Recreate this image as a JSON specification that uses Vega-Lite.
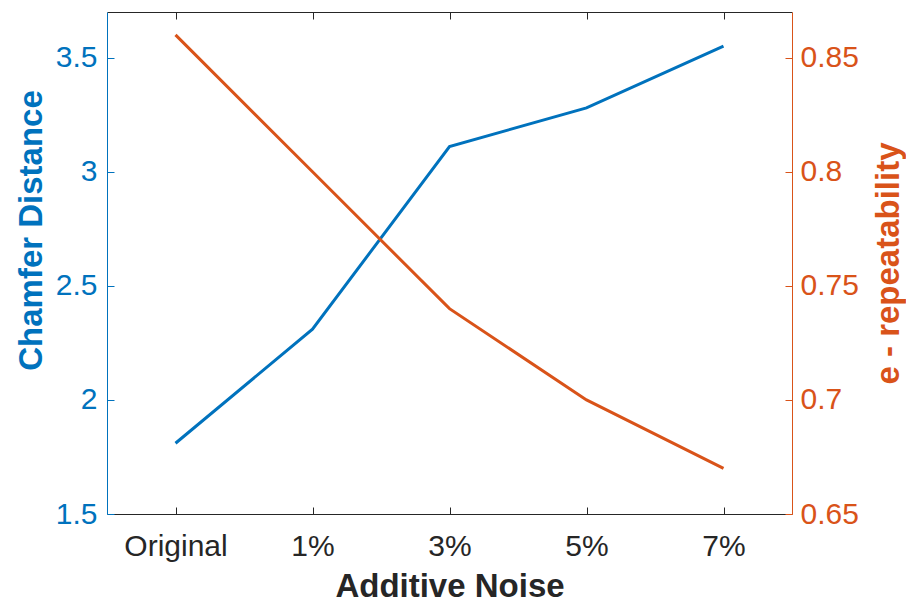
{
  "$schema": "https://vega.github.io/schema/vega-lite/v6.json",
  "autosize": {"type": "none"},
  "padding": {"left": 107, "top": 12, "right": 114, "bottom": 89},
  "width": 685,
  "height": 502,
  "background": "white",
  "view": {"stroke": null},
  "config": {
    "font": "Liberation Sans",
    "axis": {
      "grid": false,
      "labelFont": "Liberation Sans",
      "titleFont": "Liberation Sans",
      "labelFontSize": 30,
      "titleFontSize": 33,
      "titleFontWeight": "bold",
      "domainWidth": 1,
      "tickWidth": 1
    }
  },
  "data": {
    "values": [
      {"noise": "Original", "chamfer": 1.81, "rep": 0.86},
      {"noise": "1%", "chamfer": 2.31, "rep": 0.80},
      {"noise": "3%", "chamfer": 3.11, "rep": 0.74},
      {"noise": "5%", "chamfer": 3.28, "rep": 0.70},
      {"noise": "7%", "chamfer": 3.55, "rep": 0.67}
    ]
  },
  "layer": [
    {
      "mark": {"type": "line", "color": "#0072BD", "strokeWidth": 3},
      "encoding": {
        "x": {
          "field": "noise",
          "type": "ordinal",
          "sort": ["Original", "1%", "3%", "5%", "7%"],
          "scale": {"type": "point", "padding": 0.5},
          "axis": {
            "orient": "bottom",
            "title": "Additive Noise",
            "labelAngle": 0,
            "labelBaseline": "alphabetic",
            "labelColor": "#262626",
            "titleColor": "#262626",
            "domainColor": "#262626",
            "tickColor": "#262626",
            "tickSize": -7,
            "labelPadding": 48,
            "titleX": 342.5,
            "titleY": 82,
            "titleBaseline": "alphabetic"
          }
        },
        "y": {
          "field": "chamfer",
          "type": "quantitative",
          "scale": {"domain": [1.5, 3.7], "nice": false, "zero": false},
          "axis": {
            "orient": "left",
            "title": "Chamfer Distance",
            "values": [1.5, 2, 2.5, 3, 3.5],
            "format": "~g",
            "labelColor": "#0072BD",
            "titleColor": "#0072BD",
            "domainColor": "#0072BD",
            "tickColor": "#0072BD",
            "tickSize": -7,
            "labelPadding": 17,
            "titleAngle": -90,
            "titleX": -66,
            "titleY": 218,
            "titleAlign": "center",
            "titleBaseline": "alphabetic"
          }
        }
      }
    },
    {
      "mark": {"type": "line", "color": "#D95319", "strokeWidth": 3},
      "encoding": {
        "x": {
          "field": "noise",
          "type": "ordinal",
          "sort": ["Original", "1%", "3%", "5%", "7%"],
          "scale": {"type": "point", "padding": 0.5},
          "axis": {
            "orient": "top",
            "title": null,
            "labels": false,
            "domainColor": "#262626",
            "tickColor": "#262626",
            "tickSize": -7
          }
        },
        "y": {
          "field": "rep",
          "type": "quantitative",
          "scale": {"domain": [0.65, 0.87], "nice": false, "zero": false},
          "axis": {
            "orient": "right",
            "title": "e - repeatability",
            "values": [0.65, 0.7, 0.75, 0.8, 0.85],
            "format": "~g",
            "labelColor": "#D95319",
            "titleColor": "#D95319",
            "domainColor": "#D95319",
            "tickColor": "#D95319",
            "tickSize": -7,
            "labelPadding": 15,
            "titleAngle": -90,
            "titleX": 106,
            "titleY": 251,
            "titleAlign": "center",
            "titleBaseline": "alphabetic"
          }
        }
      }
    }
  ],
  "resolve": {"scale": {"y": "independent"}, "axis": {"x": "independent"}}
}
